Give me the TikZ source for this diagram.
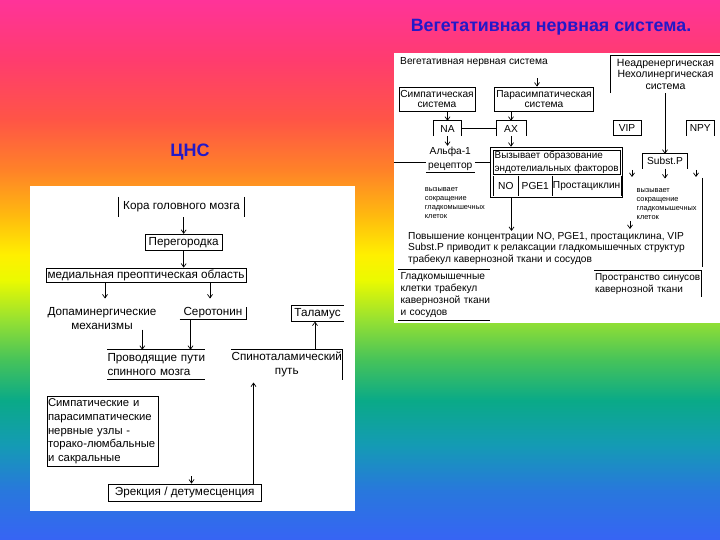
\documentclass[tikz,border=0pt]{standalone}
\usepackage{fontspec}
\setmainfont{Liberation Sans}
\usetikzlibrary{arrows.meta,calc}
\definecolor{ttlblue}{RGB}{35,25,200}
\definecolor{g0}{RGB}{255,51,153}
\definecolor{g1}{RGB}{255,60,110}
\definecolor{g2}{RGB}{255,85,70}
\definecolor{g3}{RGB}{255,130,40}
\definecolor{g4}{RGB}{255,185,15}
\definecolor{g5}{RGB}{255,240,0}
\definecolor{g6}{RGB}{235,250,0}
\definecolor{g7}{RGB}{150,225,50}
\definecolor{g8}{RGB}{70,195,90}
\definecolor{g9}{RGB}{10,170,135}
\definecolor{g10}{RGB}{20,155,180}
\definecolor{g11}{RGB}{40,120,220}
\definecolor{g12}{RGB}{55,100,245}
\begin{document}
\begin{tikzpicture}[x=1pt,y=-1pt,
  lt/.style={font=\fontsize{11.7}{13.8}\selectfont, inner sep=0pt},
  rt/.style={font=\fontsize{10.2}{11.6}\selectfont, inner sep=0pt},
  st/.style={font=\fontsize{7.4}{9}\selectfont, inner sep=0pt, align=left},
  bx/.style={draw, line width=0.8pt},
  ln/.style={line width=0.8pt},
  arr/.style={line width=0.7pt, -{Straight Barb[length=3.5pt,width=5pt]}},
  ttl/.style={font=\bfseries\fontsize{17.8}{20}\selectfont, text=ttlblue, inner sep=0pt}
]
\useasboundingbox (0,0) rectangle (720,540);
% background gradient
\shade[top color=g0,bottom color=g1] (0,0) rectangle (720,60);
\shade[top color=g1,bottom color=g2] (0,60) rectangle (720,120);
\shade[top color=g2,bottom color=g3] (0,120) rectangle (720,170);
\shade[top color=g3,bottom color=g4] (0,170) rectangle (720,215);
\shade[top color=g4,bottom color=g5] (0,215) rectangle (720,255);
\shade[top color=g5,bottom color=g6] (0,255) rectangle (720,280);
\shade[top color=g6,bottom color=g7] (0,280) rectangle (720,320);
\shade[top color=g7,bottom color=g8] (0,320) rectangle (720,360);
\shade[top color=g8,bottom color=g9] (0,360) rectangle (720,400);
\shade[top color=g9,bottom color=g10] (0,400) rectangle (720,445);
\shade[top color=g10,bottom color=g11] (0,445) rectangle (720,490);
\shade[top color=g11,bottom color=g12] (0,490) rectangle (720,540);
% panels
\fill[white] (30,186) rectangle (355,511);
\fill[white] (393.5,53.5) rectangle (720,322.5);
% titles
\node[ttl] (t1) at (551,27) {Вегетативная нервная система.};
\node[ttl, font=\bfseries\fontsize{18}{20}\selectfont] (t2) at (190,152) {ЦНС};

% ---------- left panel ----------
\node[lt, minimum width=125pt, minimum height=20pt] (kora) at (181.5,207) {Кора головного мозга};
\draw[ln] (kora.north west) -- (kora.south west) (kora.north east) -- (kora.south east);
\node[lt, bx, minimum width=77pt, minimum height=16.5pt] (pereg) at (183.7,242.5) {Перегородка};
\draw[arr] (kora.south -| pereg.north) -- (pereg.north);
\node[lt, bx, minimum width=200pt, minimum height=14pt] (mpo) at (146,275) {медиальная преоптическая область};
\draw[arr] (pereg.south) -- (pereg.south |- mpo.north);
\node[lt, align=center] (dopa) at (102,318.5) {Допаминергические\\механизмы};
\coordinate (d1) at (105,298.5);
\draw[arr] (mpo.south -| d1) -- (d1);
\node[lt, minimum width=66.6pt, minimum height=12.6pt] (sero) at (213,313) {Серотонин};
\draw[ln] (sero.south west) -- (sero.south east) -- (sero.north east);
\coordinate (s0) at (210,298.5);
\draw[arr] (mpo.south -| s0) -- (s0);
\node[lt, align=left, text width=97pt, minimum height=29.5pt] (prov) at (156,364.75) {\mbox{Проводящие пути}\\\mbox{спинного мозга}};
\draw[ln] (prov.north west) -- (prov.north east) (prov.south west) -- (prov.south east);
\coordinate (s1) at (190.5,0);
\draw[arr] (sero.south -| s1) -- (prov.north -| s1);
\coordinate (d2) at (142.3,0);
\draw[arr] (dopa.south -| d2) -- (prov.north -| d2);
\node[lt, minimum width=51.8pt, minimum height=16pt] (tal) at (317.5,313.35) {Таламус};
\draw[ln] (tal.north east) -- (tal.north west) -- (tal.south west) -- (tal.south east);
\node[lt, align=center, minimum width=111pt, minimum height=29.3pt] (spino) at (286.8,364.65) {Спиноталамический\\путь};
\draw[ln] (spino.north west) -- (spino.north east) -- (spino.south east);
\coordinate (tc) at (315,0);
\draw[arr] (spino.north -| tc) -- (tal.south -| tc);
\node[lt, draw, line width=0.8pt, align=left, text width=110pt, inner xsep=0.7pt, minimum height=70.7pt, font=\fontsize{11.3}{13.8}\selectfont] (symp) at (103,431.35) {\mbox{Симпатические и}\\\mbox{парасимпатические}\\\mbox{нервные узлы -}\\\mbox{торако-люмбальные}\\\mbox{и сакральные}};
\node[lt, bx, minimum width=152.6pt, minimum height=17pt] (erect) at (184.7,492.5) {Эрекция / детумесценция};
\coordinate (e1) at (253.5,0);
\draw[arr] (erect.north -| e1) -- ($(spino.south -| e1)+(0,3)$);
\coordinate (v1) at (191.5,476);
\draw[arr] (v1) -- (erect.north -| v1);

% ---------- right panel ----------
\node[rt, anchor=west] (vns) at (400,62.5) {Вегетативная нервная система};
\node[rt, bx, align=center, minimum width=76pt, minimum height=24pt, font=\fontsize{10.2}{10.8}\selectfont] (simp) at (437,99) {Симпатическая\\система};
\node[rt, bx, align=center, minimum width=98.6pt, minimum height=24pt, font=\fontsize{10.2}{10.8}\selectfont] (para) at (544,99) {Парасимпатическая\\система};
\coordinate (p1) at (537,78.5);
\draw[arr] (p1) -- (para.north -| p1);
\node[rt, minimum width=27.6pt, minimum height=15pt] (na) at (447.5,128.5) {NA};
\draw[ln] (na.south west) -- (na.north west) -- (na.north east) -- (na.south east);
\node[rt, minimum width=29.4pt, minimum height=15pt] (ax) at (511,128.5) {AX};
\draw[ln] (ax.south west) -- (ax.north west) -- (ax.north east) -- (ax.south east);
\draw[arr] (simp.south -| na.north) -- (na.north);
\draw[arr] (para.south -| ax.north) -- (ax.north);
\draw[ln] (na.east) -- (ax.west);
\node[rt, align=center, minimum width=48.7pt, minimum height=26pt, font=\fontsize{10.2}{13.5}\selectfont] (alpha) at (450.3,159) {Альфа-1\\рецептор};
\draw[ln] (alpha.south west) -- (alpha.south east);
\draw[arr] (na.south) -- (na.south |- alpha.north);
\node[draw, line width=1.1pt, minimum width=132pt, minimum height=50pt, inner sep=0pt] (vyz) at (556.7,172.3) {};
\node[rt, draw, line width=0.8pt, align=left, text width=124pt, inner xsep=1.3pt, minimum height=24.3pt, font=\fontsize{9.9}{13}\selectfont] (vyzt) at (556.65,162.15) {\mbox{Вызывает образование}\\\mbox{эндотелиальных факторов}};
\node[rt, minimum width=25pt, minimum height=20pt] (no) at (505.8,186) {NO};
\node[rt, minimum width=34pt, minimum height=20pt] (pge) at (535.3,186) {PGE1};
\node[rt, minimum width=68.7pt, minimum height=20pt] (prc) at (586.65,186) {Простациклин};
\draw[ln] (no.north west) -- (no.south west) (pge.north west) -- (pge.south west)
  (prc.north west) -- (prc.south west) (prc.north east) -- (prc.south east);
\coordinate (lp) at (393.5,162.5);
\draw[ln] (lp) -- (lp -| alpha.west);
\draw[ln] (alpha.east |- lp) -- (lp -| vyz.west);
\draw[arr] (ax.south) -- (ax.south |- vyz.north);
\coordinate (pv) at (511.5,231);
\draw[arr] (vyz.south -| pv) -- (pv);
\node[st, anchor=north west] (sm1) at (424.7,187) {вызывает\\сокращение\\гладкомышечных\\клеток};
\node[st, anchor=north west] (sm2) at (636.5,188) {вызывает\\сокращение\\гладкомышечных\\клеток};
\node[rt, align=center, minimum width=109pt, minimum height=37.5pt, font=\fontsize{10.5}{11.5}\selectfont] (nanc) at (665.5,74.25) {Неадренергическая\\Нехолинергическая\\система};
\draw[ln] (nanc.south west) -- (nanc.north west) -- (nanc.north east);
\node[rt, bx, minimum width=28pt, minimum height=15pt] (vip) at (627,128) {VIP};
\node[rt, minimum width=27.5pt, minimum height=15pt] (npy) at (700.25,128) {NPY};
\draw[ln] (npy.south west) -- (npy.north west) -- (npy.north east) -- (npy.south east);
\node[rt, minimum width=44.5pt, minimum height=14.5pt] (subp) at (665,161.25) {Subst.P};
\draw[ln] (subp.south west) -- (subp.north west) -- (subp.north east) -- (subp.south east);
\draw[arr] (nanc.south -| subp.north) -- (subp.north);
\coordinate (sp1) at (665,178.5);
\draw[arr] (subp.south) -- (sp1);
\coordinate (a1) at (632,170); \coordinate (a1e) at (632,177);
\draw[arr] (a1) -- (a1e);
\coordinate (a2) at (696,170); \coordinate (a2e) at (696,177);
\draw[arr] (a2) -- (a2e);
\coordinate (r1) at (702,178); \coordinate (r2) at (702,267);
\draw[ln] (r1) -- (r2);
\coordinate (a3) at (630,221); \coordinate (a3e) at (630,229);
\draw[arr] (a3) -- (a3e);
\node[rt, anchor=north west, align=left] (pov) at (408,232) {Повышение концентрации NO, PGE1, простациклина, VIP\\Subst.P приводит к релаксации гладкомышечных структур\\трабекул кавернозной ткани и сосудов};
\node[rt, align=left, text width=88pt, minimum height=50pt, font=\fontsize{10.2}{11.8}\selectfont] (gl) at (444.5,295) {\mbox{Гладкомышечные}\\\mbox{клетки трабекул}\\\mbox{кавернозной ткани}\\\mbox{и сосудов}};
\draw[ln] ([xshift=-2.5pt]gl.north west) -- ([xshift=1.5pt]gl.north east)
  ([xshift=-2.5pt]gl.south west) -- ([xshift=1.5pt]gl.south east);
\node[rt, align=left, text width=106pt, inner xsep=0.5pt, minimum height=26pt, font=\fontsize{10}{11.5}\selectfont] (pr) at (648,284) {\mbox{Пространство синусов}\\\mbox{кавернозной ткани}};
\draw[ln] (pr.north west) -- (pr.north east) -- (pr.south east);
\end{tikzpicture}
\end{document}
